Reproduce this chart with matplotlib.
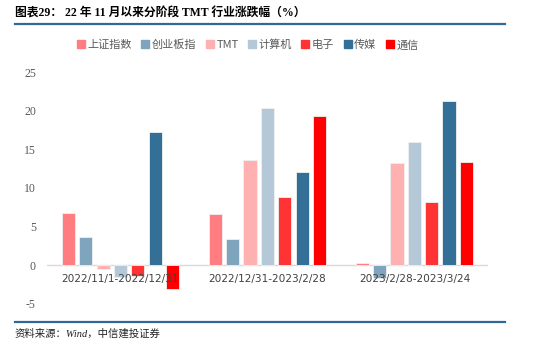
import numpy as np
import matplotlib.pyplot as plt
from matplotlib.lines import Line2D

plt.rcParams['font.family'] = ['Noto Sans CJK SC', 'DejaVu Sans']

# 数据
periods = ['2022/11/1-2022/12/31', '2022/12/31-2023/2/28', '2023/2/28-2023/3/24']
sectors = ['上证指数', '创业板指', 'TMT', '计算机', '电子', '传媒', '通信']
sh_index = [6.8, 6.7, 0.3]
cyb_index = [3.6, 3.4, -1.6]
tmt = [-0.5, 13.6, 13.2]
computer = [-1.5, 20.4, 16.0]
electronics = [-1.4, 8.8, 8.2]
media = [17.2, 12.1, 21.3]
telecom = [-3.0, 19.3, 13.4]
yticks = [-5, 0, 5, 10, 15, 20, 25]

series = [sh_index, cyb_index, tmt, computer, electronics, media, telecom]
colors = ['#FF7C80', '#7FA4BE', '#FFB0B0', '#B4C8D8', '#FF3333', '#336F96', '#FF0000']

fig = plt.figure(figsize=(5.5, 3.47), dpi=100)
ax = fig.add_axes([0.0855, 0.124, 0.8015, 0.6685])

x = np.arange(len(periods))
pitch = 0.118
width = 0.09
for i, (vals, c) in enumerate(zip(series, colors)):
    ax.bar(x + (i - 3) * pitch, vals, width, color=c, edgecolor='#F0F0F0',
           linewidth=0.6, label=sectors[i], zorder=2)

ax.set_xlim(-0.5, 2.5)
ax.set_ylim(-5, 25)
ax.set_yticks(yticks)
ax.set_yticklabels([str(v) for v in yticks], family='Liberation Serif',
                   fontsize=8.5, color='#595959')
ax.tick_params(axis='y', length=0, pad=8)
ax.set_xticks([])
for s in ['top', 'right', 'left', 'bottom']:
    ax.spines[s].set_visible(False)
ax.axhline(0, color='#D9D9D9', lw=1.0, zorder=1)

# 横轴标签画在零线下方
for xi, p in zip(x, periods):
    ax.text(xi, -1.1, p, ha='center', va='top', fontsize=7.6,
            color='#404040', family=['DejaVu Sans'], zorder=3)

# 图例
handles = [Line2D([], [], marker='s', ls='', color=c, markersize=5.5) for c in colors]
fig.legend(handles, sectors, loc='center', bbox_to_anchor=(0.451, 0.87), ncol=7,
           frameon=False, fontsize=8, handlelength=0.6, handletextpad=0.3,
           columnspacing=0.9, labelcolor='#595959')

# 标题与分隔线
fig.text(0.027, 0.962, '图表29： 22 年 11 月以来分阶段 TMT 行业涨跌幅（%）',
         fontsize=8.5, weight='bold', family=['Liberation Serif', 'Noto Sans CJK SC'],
         va='center', ha='left', color='#000000')
fig.add_artist(Line2D([0.027, 0.918], [0.932, 0.932], color='#2E6A96', lw=1.6))
fig.add_artist(Line2D([0.027, 0.918], [0.073, 0.073], color='#2E6A96', lw=1.6))
fig.text(0.027, 0.04, '资料来源：Wind，中信建投证券', fontsize=7.5, style='italic',
         family=['Liberation Serif', 'Noto Sans CJK SC'], va='center', ha='left',
         color='#222222')

fig.savefig('out.png', dpi=100)
